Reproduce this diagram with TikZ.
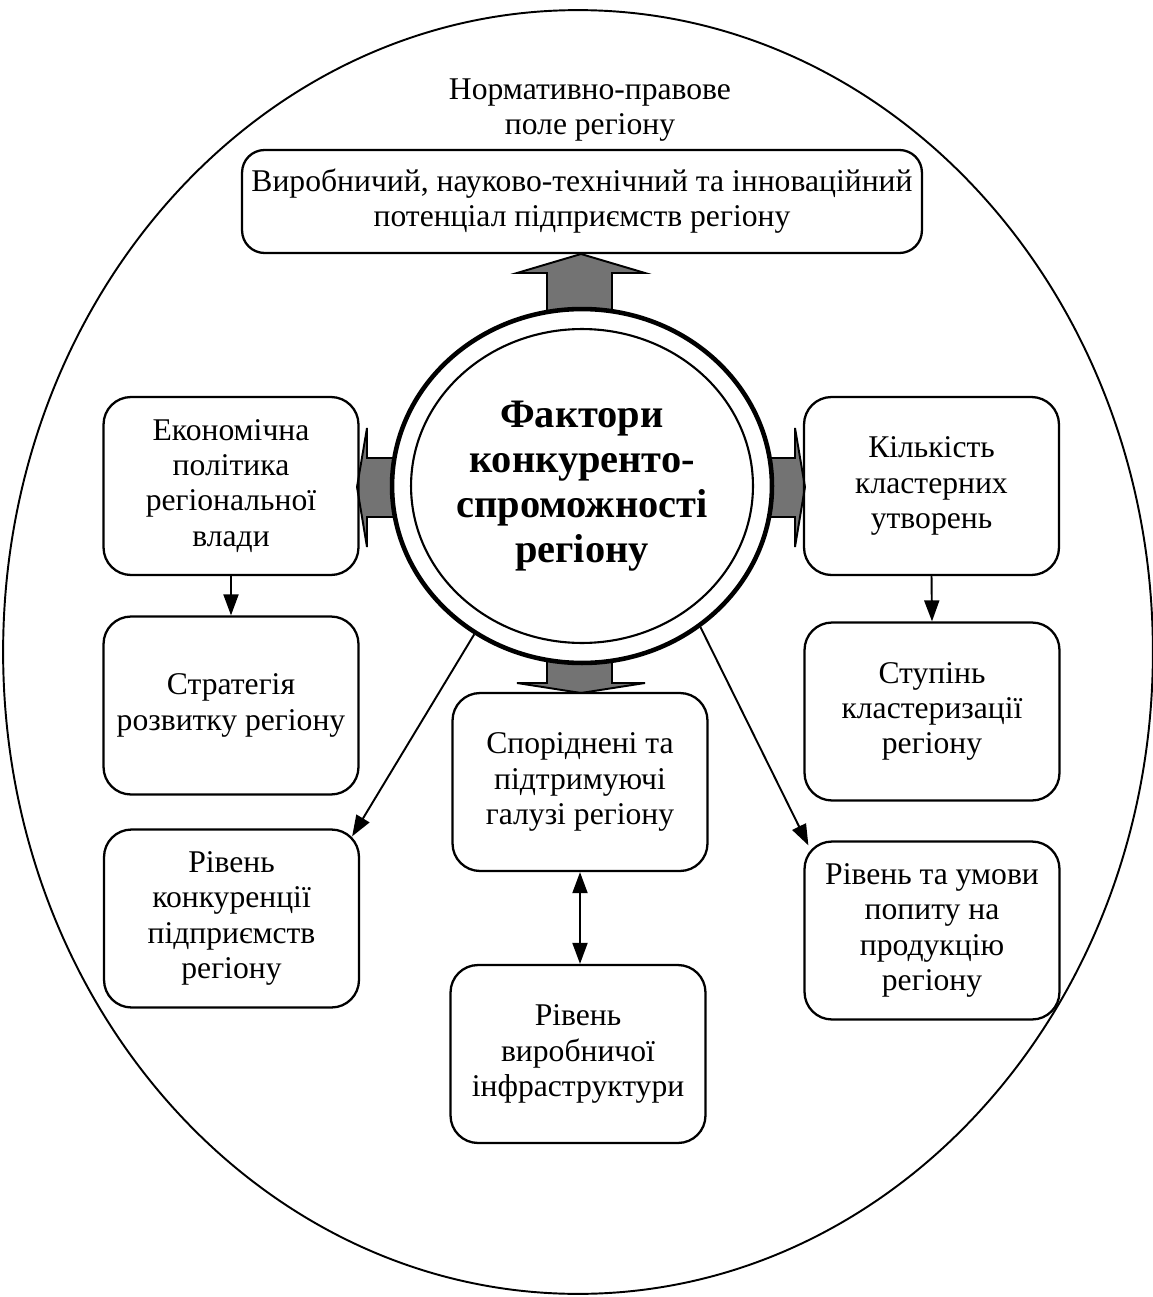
\documentclass[tikz,border=0pt]{standalone}
\usepackage{fontspec}
\setmainfont{Liberation Serif}
\usetikzlibrary{arrows.meta,shapes.geometric}
\definecolor{arrowgray}{RGB}{115,115,115}
\begin{document}
\begin{tikzpicture}[x=0.02cm,y=-0.02cm,
    box/.style={draw,line width=1.3pt,rounded corners=0.55cm,align=center,minimum width=5.1cm,minimum height=3.56cm,font=\fontsize{18}{20}\selectfont},
    conn/.style={line width=1.1pt,-{Triangle[length=0.42cm,width=0.3cm]}},
    blockarrow/.style={draw,line width=1.1pt,fill=arrowgray,line join=miter}]
    \useasboundingbox (0,0) rectangle (1152,1297);
    \draw[line width=1.1pt] (578,652) ellipse [x radius=11.5cm, y radius=12.84cm];
    \node[font=\fontsize{18}{20}\selectfont,align=center] (pole) at (590,110) {Нормативно-правове\\поле регіону};
    \node[box,minimum width=13.6cm,minimum height=2.06cm,rounded corners=0.45cm] (potent) at (582,201.5) {Виробничий, науково-технічний та інноваційний\\потенціал підприємств регіону};
    \filldraw[blockarrow] (547,315) -- (547,273) -- (517,273) -- (581,254) -- (645,273) -- (612,273) -- (612,315) -- cycle;
    \filldraw[blockarrow] (547,655) -- (547,683) -- (517,683) -- (581,693) -- (645,683) -- (612,683) -- (612,655) -- cycle;
    \filldraw[blockarrow] (398,458) -- (367,458) -- (367,428) -- (357,487) -- (367,547) -- (367,517) -- (398,517) -- cycle;
    \filldraw[blockarrow] (766,458) -- (795,458) -- (795,428) -- (805,487) -- (795,547) -- (795,517) -- (766,517) -- cycle;
    \node[ellipse,draw,line width=2.6pt,fill=white,inner sep=0pt,minimum width=7.6cm,minimum height=7.08cm,align=center,font=\bfseries\fontsize{23}{25.6}\selectfont] (fact) at (582,486) {Фактори\\конкуренто-\\спроможності\\регіону};
    \draw[line width=1.2pt] (fact.center) ellipse [x radius=3.42cm, y radius=3.14cm];
    \node[box] (ekon) at (231,486) {Економічна\\політика\\регіональної\\влади};
    \node[box] (strat) at (231,705.5) {Стратегія\\розвитку регіону};
    \node[box] (konk) at (231.5,918.5) {Рівень\\конкуренції\\підприємств\\регіону};
    \node[box] (spor) at (580,782) {Споріднені та\\підтримуючі\\галузі регіону};
    \node[box] (infra) at (578,1054) {Рівень\\виробничої\\інфраструктури};
    \node[box] (klast) at (931.5,486) {Кількість\\кластерних\\утворень};
    \node[box] (stup) at (932,711.5) {Ступінь\\кластеризації\\регіону};
    \node[box] (popyt) at (932,930.5) {Рівень та умови\\попиту на\\продукцію\\регіону};
    \draw[conn] (ekon.south) -- (strat.north);
    \draw[conn] (klast.south) -- (stup.north);
    \draw[conn] (fact.234) -- ([xshift=-0.16cm,yshift=-0.16cm]konk.north east);
    \draw[conn] (fact.310) -- ([xshift=0.1cm,yshift=-0.1cm]popyt.north west);
    \draw[line width=1.1pt,{Triangle[length=0.42cm,width=0.3cm]}-{Triangle[length=0.42cm,width=0.3cm]}] (spor.south) -- (spor.south |- infra.north);
\end{tikzpicture}
\end{document}
